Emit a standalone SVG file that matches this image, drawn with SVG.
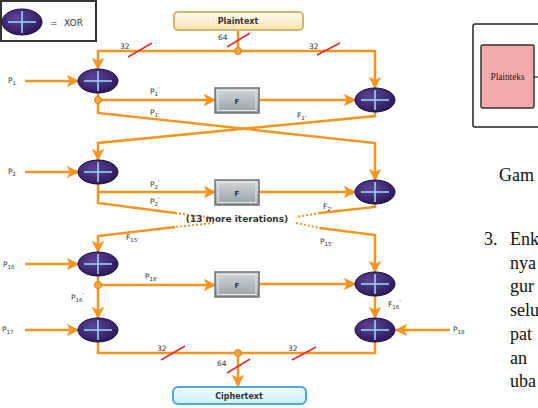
<svg xmlns="http://www.w3.org/2000/svg" width="538" height="408" viewBox="0 0 538 408">
<defs>
  <radialGradient id="xorG" cx="0.4" cy="0.35" r="0.7">
    <stop offset="0" stop-color="#5f459a"/>
    <stop offset="1" stop-color="#2a1556"/>
  </radialGradient>
  <linearGradient id="fG" x1="0" y1="0" x2="0" y2="1">
    <stop offset="0" stop-color="#d3d8db"/>
    <stop offset="1" stop-color="#98a0a5"/>
  </linearGradient>
  <linearGradient id="ptG" x1="0" y1="0" x2="0" y2="1">
    <stop offset="0" stop-color="#fffdf2"/>
    <stop offset="1" stop-color="#f8e2b0"/>
  </linearGradient>
  <linearGradient id="ctG" x1="0" y1="0" x2="0" y2="1">
    <stop offset="0" stop-color="#f2fcff"/>
    <stop offset="1" stop-color="#c9eefa"/>
  </linearGradient>
  <marker id="ah" viewBox="0 0 10 10" refX="9" refY="5" markerWidth="5" markerHeight="5" orient="auto" markerUnits="strokeWidth">
    <path d="M0,0 L10,5 L0,10 L2.5,5 Z" fill="#f7941d"/>
  </marker>
  <g id="xor">
    <ellipse cx="0" cy="0" rx="20" ry="12" fill="url(#xorG)" stroke="#1e0c40" stroke-width="1"/>
    <line x1="-14" y1="0" x2="14" y2="0" stroke="#8fd6f2" stroke-width="1.6"/>
    <line x1="0" y1="-10" x2="0" y2="10" stroke="#8fd6f2" stroke-width="1.6"/>
  </g>
  <g id="fbox">
    <rect x="0" y="0" width="44" height="25" fill="url(#fG)" stroke="#6a7277" stroke-width="1.5"/>
    <rect x="3" y="2.5" width="38" height="20" fill="none" stroke="#e4e8ea" stroke-width="1"/>
    <text x="22" y="15.5" class="f">F</text>
  </g>
</defs>
<style>
  .w{fill:none;stroke:#f7941d;stroke-width:2.5}
  .wa{fill:none;stroke:#f7941d;stroke-width:2.5;marker-end:url(#ah)}
  .d{fill:none;stroke:#f7941d;stroke-width:2;stroke-dasharray:2 2}
  .s{stroke:#e52a2f;stroke-width:1.5}
  .dot{fill:#f9a63b;stroke:#e07f10;stroke-width:1}
  .lb{font-family:"DejaVu Sans",sans-serif;font-size:7.5px;fill:#333}
  .sb{font-size:5.5px}
  .f{font-family:"DejaVu Sans",sans-serif;font-size:7px;font-weight:bold;fill:#333;text-anchor:middle}
  .bx{font-family:"DejaVu Sans",sans-serif;font-size:8px;font-weight:bold;fill:#333;text-anchor:middle}
  .doc{font-family:"Liberation Serif",serif;font-size:18px;fill:#111}
</style>

<g id="legend">
  <rect x="1" y="1" width="95" height="40" fill="#fff" stroke="#333" stroke-width="2"/>
  <ellipse cx="22" cy="22" rx="20" ry="13" fill="url(#xorG)" stroke="#1e0c40"/>
  <line x1="8" y1="22" x2="36" y2="22" stroke="#8fd6f2" stroke-width="1.6"/>
  <line x1="22" y1="11" x2="22" y2="33" stroke="#8fd6f2" stroke-width="1.6"/>
  <text x="50" y="26" class="lb" style="font-size:9px">=</text>
  <text x="64" y="26" class="lb" style="font-size:9px">XOR</text>
</g>

<g id="connectors">
  <line class="w" x1="238" y1="30" x2="238" y2="51"/>
  <path class="wa" d="M238,51 H98 V69"/>
  <path class="wa" d="M238,51 H375 V88"/>
  <path class="wa" d="M25,81 H78"/>
  <path class="wa" d="M98,93 V100 H215"/>
  <path class="wa" d="M259,100 H355"/>
  <path class="wa" d="M98,100 V113 L375,143 V180"/>
  <path class="wa" d="M375,112 V116 L98,143 V160"/>
  <path class="wa" d="M25,172 H78"/>
  <path class="wa" d="M98,184 V192 H215"/>
  <path class="wa" d="M259,192 H355"/>
  <path class="w" d="M98,192 V203 L175,213"/>
  <path class="d" d="M175,213 L214,218"/>
  <path class="w" d="M375,204 V207 L320,213"/>
  <path class="d" d="M320,213 L296,217"/>
  <path class="d" d="M214,223 L175,227"/>
  <path class="wa" d="M175,227 L98,236 V252"/>
  <path class="d" d="M296,223 L320,228"/>
  <path class="wa" d="M320,228 L375,235 V272"/>
  <path class="wa" d="M25,264 H78"/>
  <path class="wa" d="M98,276 V285 H215"/>
  <path class="wa" d="M259,284 H355"/>
  <path class="wa" d="M98,285 V318"/>
  <path class="wa" d="M375,296 V318"/>
  <path class="wa" d="M25,330 H78"/>
  <path class="wa" d="M450,330 H396"/>
  <path class="w" d="M98,342 V353 H375 V342"/>
  <path class="wa" d="M238,353 V386"/>
  <line class="s" x1="128" y1="57" x2="152" y2="43"/>
  <line class="s" x1="227" y1="47" x2="250" y2="33"/>
  <line class="s" x1="317" y1="55" x2="340" y2="43"/>
  <line class="s" x1="161" y1="360" x2="185" y2="346"/>
  <line class="s" x1="292" y1="360" x2="316" y2="347"/>
  <line class="s" x1="227" y1="373" x2="250" y2="359"/>
  <circle class="dot" cx="238" cy="51" r="3.5"/>
  <circle class="dot" cx="98" cy="100" r="3.5"/>
  <circle class="dot" cx="98" cy="285" r="3.5"/>
  <circle class="dot" cx="238" cy="353" r="3.5"/>
</g>

<g id="labels">
  <text class="lb" x="120" y="49">32</text>
  <text class="lb" x="218" y="40">64</text>
  <text class="lb" x="309" y="49">32</text>
  <text class="lb" x="157" y="351">32</text>
  <text class="lb" x="288" y="351">32</text>
  <text class="lb" x="217" y="366">64</text>
  <text class="lb" x="8" y="83">P<tspan class="sb" dy="1.5">1</tspan></text>
  <text class="lb" x="150" y="94">P<tspan class="sb" dy="1.5">1</tspan><tspan class="sb" dy="-5">'</tspan></text>
  <text class="lb" x="150" y="115">P<tspan class="sb" dy="1.5">1'</tspan></text>
  <text class="lb" x="297" y="118">F<tspan class="sb" dy="1.5">1'</tspan></text>
  <text class="lb" x="8" y="174">P<tspan class="sb" dy="1.5">2</tspan></text>
  <text class="lb" x="150" y="187">P<tspan class="sb" dy="1.5">2</tspan><tspan class="sb" dy="-5">'</tspan></text>
  <text class="lb" x="150" y="204">P<tspan class="sb" dy="1.5">2</tspan><tspan class="sb" dy="-5">'</tspan></text>
  <text class="lb" x="323" y="209">F<tspan class="sb" dy="1.5">2'</tspan></text>
  <text class="lb" x="237" y="222" text-anchor="middle" style="font-size:9px;font-weight:bold">(13 more iterations)</text>
  <text class="lb" x="126" y="240">F<tspan class="sb" dy="1.5">15'</tspan></text>
  <text class="lb" x="320" y="244">P<tspan class="sb" dy="1.5">15'</tspan></text>
  <text class="lb" x="3" y="267">P<tspan class="sb" dy="1.5">16</tspan></text>
  <text class="lb" x="145" y="279">P<tspan class="sb" dy="1.5">16'</tspan></text>
  <text class="lb" x="71" y="300">P<tspan class="sb" dy="1.5">16</tspan><tspan class="sb" dy="-5">'</tspan></text>
  <text class="lb" x="2" y="332">P<tspan class="sb" dy="1.5">17</tspan></text>
  <text class="lb" x="388" y="307">F<tspan class="sb" dy="1.5">16</tspan><tspan class="sb" dy="-5">'</tspan></text>
  <text class="lb" x="453" y="332">P<tspan class="sb" dy="1.5">18</tspan></text>
</g>

<g id="plaintext">
  <rect x="174" y="12" width="129" height="18" rx="4" fill="url(#ptG)" stroke="#d7b26a" stroke-width="2"/>
  <text class="bx" x="238" y="24">Plaintext</text>
</g>
<g id="ciphertext">
  <rect x="173" y="387" width="133" height="17" rx="5" fill="url(#ctG)" stroke="#4aa9dc" stroke-width="2"/>
  <text class="bx" x="239" y="399">Ciphertext</text>
</g>

<use id="xor1L" href="#xor" x="98" y="81"/>
<use id="xor1R" href="#xor" x="375" y="100"/>
<use id="xor2L" href="#xor" x="98" y="172"/>
<use id="xor2R" href="#xor" x="375" y="192"/>
<use id="xor3L" href="#xor" x="98" y="264"/>
<use id="xor3R" href="#xor" x="375" y="284"/>
<use id="xor4L" href="#xor" x="98" y="330"/>
<use id="xor4R" href="#xor" x="375" y="330"/>
<use id="f1" href="#fbox" x="215" y="88"/>
<use id="f2" href="#fbox" x="215" y="180"/>
<use id="f3" href="#fbox" x="215" y="272"/>

<g id="docfragment">
  <rect x="473" y="24" width="80" height="103" rx="2" fill="#fff" stroke="#222" stroke-width="1.5"/>
  <rect x="481" y="45" width="53" height="63" rx="1.5" fill="#f4a9aa" stroke="#333" stroke-width="1.5"/>
  <text x="507.5" y="80" text-anchor="middle" font-family="Liberation Serif, serif" font-size="10" textLength="34" lengthAdjust="spacingAndGlyphs" fill="#222">Plainteks</text>
  <line x1="534" y1="77" x2="540" y2="77" stroke="#222" stroke-width="1.2"/>
  <text class="doc" x="499" y="181">Gam</text>
  <text class="doc" x="484" y="245">3.</text>
  <text class="doc" x="510" y="245">Enk</text>
  <text class="doc" x="510" y="269">nya</text>
  <text class="doc" x="510" y="292">gur</text>
  <text class="doc" x="510" y="316">selu</text>
  <text class="doc" x="510" y="340">pat</text>
  <text class="doc" x="510" y="364">an</text>
  <text class="doc" x="510" y="387">uba</text>
</g>
</svg>
